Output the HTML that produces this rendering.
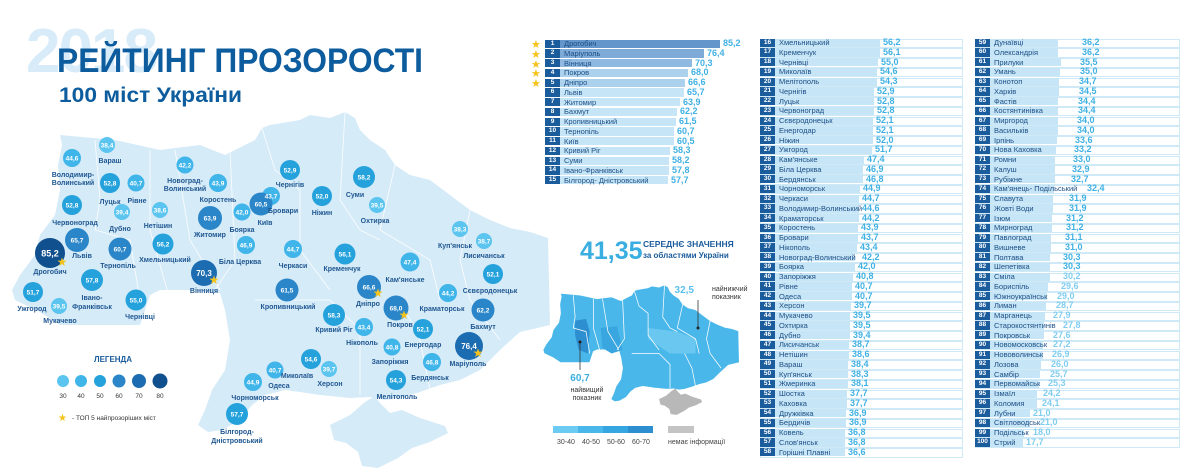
<!DOCTYPE html>
<html><head><meta charset="utf-8">
<style>
body{margin:0;width:1200px;height:476px;background:#fff;position:relative;overflow:hidden;font-family:"Liberation Sans",sans-serif}
.c{position:absolute;top:39px;width:210px}
.c p{position:relative;height:9.75px;margin:0}
.c b{position:absolute;left:0;top:.6px;width:15px;height:8.4px;background:#1b5c9c;color:#fff;font-size:6.5px;text-align:center;line-height:8.4px;z-index:2}
.c i{position:absolute;left:0;top:.6px;height:8.4px;background:#c6e5f6;z-index:1}
.c s{position:absolute;left:19px;top:0;font-size:7.5px;line-height:9.7px;color:#1d4f86;text-decoration:none;white-space:nowrap;z-index:3}
.c u{position:absolute;top:-1px;font-size:9px;font-weight:bold;color:#3fb0e3;text-decoration:none;line-height:11px;z-index:3}
.c2 p::after,.c3 p::after{content:'';position:absolute;left:0;right:0;top:.6px;height:7.6px;border:.5px solid #cfe9f7}
.c3 p:nth-child(n+25) u{color:#7fcdf0}
.st{position:absolute;left:531px;color:#f6c31c;font-size:11px;line-height:10px}
</style></head><body>

<svg width="1200" height="476" style="position:absolute;left:0;top:0">
<defs>
<polygon id="main" points="15,300 12,290 20,275 35,255 40,235 55,215 60,190 58,165 62,145 60,135 115,140 160,150 175,148 200,145 225,155 255,140 262,128 270,125 300,120 310,115 330,118 345,112 355,118 360,130 370,140 385,150 395,165 410,175 430,180 450,195 470,210 490,220 510,228 530,232 548,238 550,325 520,332 500,350 480,370 460,380 440,385 420,392 400,398 385,400 370,397 350,398 320,395 300,392 285,390 265,395 252,405 240,420 222,430 208,432 198,425 205,410 212,390 225,370 230,340 225,310 220,293 200,290 160,290 150,295 140,325 100,325 60,325 40,312"/>
<polygon id="cri" points="330,425 350,415 365,402 375,396 380,403 390,413 402,410 420,418 445,426 448,433 430,442 412,448 398,458 378,468 362,466 358,452 346,443 334,440"/>
</defs>
<use href="#main" fill="#d6ebf8"/>
<use href="#cri" fill="#d6ebf8"/>
<g fill="none" stroke="#fff" stroke-width="0.8" opacity="0.9">
<polyline points="95,140 100,200 95,230 130,240 140,300"/><polyline points="150,150 150,230 170,300"/><polyline points="175,150 190,240 220,290"/><polyline points="230,150 235,260 215,290"/><polyline points="262,128 275,170 300,190 300,250 330,290"/><polyline points="345,112 340,200 360,230 380,240"/><polyline points="395,165 380,230 430,260 440,300"/><polyline points="470,210 460,260 470,300 500,340"/><polyline points="255,300 330,300 360,330 360,395"/><polyline points="400,300 420,340 430,390"/>
</g>
<!-- small map -->
<g transform="translate(538.6,244) scale(0.365)">
<use href="#main" fill="#4ab7ea" stroke="#fff" stroke-width="2"/>
<use href="#cri" fill="#b8b8b8"/>
<polygon fill="#2e8fd0" points="100,210 130,205 140,240 135,300 110,290 100,250"/>
<polygon fill="#3aa6e0" points="170,230 215,225 230,290 200,300 175,285"/>
<polygon fill="#6ac8f0" points="300,230 380,240 430,260 430,300 360,300 300,260"/>
<g fill="none" stroke="#fff" stroke-width="2"><polyline points="95,140 100,200 95,230 130,240 140,300"/><polyline points="150,150 150,230 170,300"/><polyline points="175,150 190,240 220,290"/><polyline points="230,150 235,260 215,290"/><polyline points="262,128 275,170 300,190 300,250 330,290"/><polyline points="345,112 340,200 360,230 380,240"/><polyline points="395,165 380,230 430,260 440,300"/><polyline points="470,210 460,260 470,300 500,340"/><polyline points="255,300 330,300 360,330 360,395"/><polyline points="400,300 420,340 430,390"/></g>
</g>
<line x1="698" y1="300" x2="698" y2="328" stroke="#333" stroke-width="0.8"/><circle cx="698" cy="328" r="1.5" fill="#222"/>
<line x1="580" y1="342" x2="580" y2="370" stroke="#333" stroke-width="0.8"/><circle cx="580" cy="342" r="1.5" fill="#222"/>
<rect x="553" y="426" width="25" height="7" fill="#6ccbf2"/><rect x="578" y="426" width="25" height="7" fill="#4ab7ea"/><rect x="603" y="426" width="25" height="7" fill="#36a6e0"/><rect x="628" y="426" width="25" height="7" fill="#2e8fd0"/>
<rect x="668" y="426" width="26" height="7" fill="#c4c4c4"/>
<g font-size="7" fill="#444"><text x="557" y="444">30-40</text><text x="582" y="444">40-50</text><text x="607" y="444">50-60</text><text x="632" y="444">60-70</text><text x="668" y="444">немає інформації</text></g>
<text x="712" y="291" font-size="7" fill="#333">найнижчий</text><text x="712" y="299" font-size="7" fill="#333">показник</text>
<text x="694" y="293" font-size="10" font-weight="bold" fill="#5cc0ee" text-anchor="end">32,5</text>
<text x="580" y="381" font-size="10" font-weight="bold" fill="#3aaee0" text-anchor="middle">60,7</text>
<text x="587" y="392" font-size="7" fill="#333" text-anchor="middle">найвищий</text><text x="587" y="400" font-size="7" fill="#333" text-anchor="middle">показник</text>

<!-- title -->
<text x="26" y="72" font-size="62" font-weight="bold" fill="#d7ebf8" letter-spacing="-2">2018</text>
<text x="57" y="72" font-size="34" font-weight="bold" fill="#0d5c9e" textLength="366" lengthAdjust="spacingAndGlyphs">РЕЙТИНГ ПРОЗОРОСТІ</text>
<text x="59" y="102" font-size="21" font-weight="bold" fill="#0d5c9e" textLength="183" lengthAdjust="spacingAndGlyphs">100 міст України</text>
<text x="580" y="259" font-size="25" font-weight="bold" fill="#3aaee0">41,35</text>
<text x="643" y="247" font-size="8.5" font-weight="bold" fill="#1b5c9c">СЕРЕДНЄ ЗНАЧЕННЯ</text>
<text x="643" y="258" font-size="8" font-weight="bold" fill="#1b5c9c">за областями України</text>

<!-- legend -->
<text x="113" y="362" font-size="8" font-weight="bold" fill="#1b5c9c" text-anchor="middle">ЛЕГЕНДА</text>
<circle cx="63" cy="381" r="6" fill="#5bc5f0"/><circle cx="81" cy="381" r="6" fill="#3fb5e9"/><circle cx="100" cy="381" r="6" fill="#25a2dc"/><circle cx="119" cy="381" r="6.5" fill="#2a86c8"/><circle cx="139" cy="381" r="7" fill="#1c6cb1"/><circle cx="160" cy="381" r="7.5" fill="#11508f"/>
<g font-size="6.5" fill="#333" text-anchor="middle"><text x="63" y="398">30</text><text x="81" y="398">40</text><text x="100" y="398">50</text><text x="119" y="398">60</text><text x="139" y="398">70</text><text x="160" y="398">80</text></g>
<text x="58" y="421" font-size="10" fill="#f6c31c">★</text><text x="72" y="420" font-size="6.5" fill="#333">- ТОП 5 найпрозоріших міст</text>

<!-- bubbles -->
<g font-size="6.5" font-weight="bold" text-anchor="middle">
<g fill="#5bc5f0"><circle cx="107" cy="145" r="8"/><circle cx="122" cy="212" r="8"/><circle cx="160" cy="210" r="8"/><circle cx="377" cy="205" r="8"/><circle cx="460" cy="229" r="8"/><circle cx="484" cy="241" r="8"/><circle cx="329" cy="369" r="8"/><circle cx="59" cy="306" r="8"/></g>
<g fill="#3fb5e9"><circle cx="72" cy="158" r="9"/><circle cx="136" cy="183" r="8.5"/><circle cx="185" cy="165" r="8.5"/><circle cx="218" cy="183" r="9"/><circle cx="242" cy="212" r="8.5"/><circle cx="271" cy="196" r="9"/><circle cx="246" cy="245" r="9"/><circle cx="293" cy="249" r="9"/><circle cx="410" cy="262" r="9.5"/><circle cx="448" cy="293" r="9"/><circle cx="364" cy="327" r="9"/><circle cx="392" cy="347" r="8.5"/><circle cx="432" cy="362" r="9"/><circle cx="275" cy="370" r="8.5"/><circle cx="253" cy="382" r="9"/></g>
<g fill="#25a2dc"><circle cx="110" cy="183" r="10"/><circle cx="72" cy="205" r="10"/><circle cx="290" cy="170" r="10"/><circle cx="322" cy="196" r="10"/><circle cx="364" cy="177" r="11"/><circle cx="163" cy="244" r="10.5"/><circle cx="345" cy="254" r="10.5"/><circle cx="493" cy="274" r="10"/><circle cx="334" cy="315" r="11"/><circle cx="423" cy="329" r="10"/><circle cx="396" cy="380" r="10"/><circle cx="311" cy="359" r="10"/><circle cx="237" cy="414" r="11"/><circle cx="33" cy="292" r="10"/><circle cx="92" cy="280" r="11"/><circle cx="136" cy="300" r="10.5"/></g>
<g fill="#2a86c8"><circle cx="210" cy="218" r="12"/><circle cx="261" cy="204" r="11.5"/><circle cx="77" cy="240" r="12"/><circle cx="120" cy="249" r="11.5"/><circle cx="287" cy="290" r="11.5"/><circle cx="369" cy="287" r="12"/><circle cx="483" cy="310" r="11.5"/><circle cx="396" cy="308" r="12.5"/></g>
<g fill="#1c6cb1"><circle cx="204" cy="273" r="13"/><circle cx="469" cy="346" r="14"/></g>
<circle cx="50" cy="253" r="15" fill="#11508f"/>
<g fill="#fff">
<text x="107" y="147.5">38,4</text><text x="122" y="214.5">39,4</text><text x="160" y="212.5">38,6</text><text x="377" y="207.5">39,5</text><text x="460" y="231.5">38,3</text><text x="484" y="243.5">38,7</text><text x="329" y="371.5">39,7</text><text x="59" y="308.5">39,5</text>
<text x="72" y="160.5">44,6</text><text x="136" y="185.5">40,7</text><text x="185" y="167.5">42,2</text><text x="218" y="185.5">43,9</text><text x="242" y="214.5">42,0</text><text x="271" y="198.5">43,7</text><text x="246" y="247.5">46,9</text><text x="293" y="251.5">44,7</text><text x="410" y="264.5">47,4</text><text x="448" y="295.5">44,2</text><text x="364" y="329.5">43,4</text><text x="392" y="349.5">40,8</text><text x="432" y="364.5">46,8</text><text x="275" y="372.5">40,7</text><text x="253" y="384.5">44,9</text>
<text x="110" y="185.5">52,8</text><text x="72" y="207.5">52,8</text><text x="290" y="172.5">52,9</text><text x="322" y="198.5">52,0</text><text x="364" y="179.5">58,2</text><text x="163" y="246.5">56,2</text><text x="345" y="256.5">56,1</text><text x="493" y="276.5">52,1</text><text x="334" y="317.5">58,3</text><text x="423" y="331.5">52,1</text><text x="396" y="382.5">54,3</text><text x="311" y="361.5">54,6</text><text x="237" y="416.5">57,7</text><text x="33" y="294.5">51,7</text><text x="92" y="282.5">57,8</text><text x="136" y="302.5">55,0</text>
<text x="210" y="220.5">63,9</text><text x="261" y="206.5">60,5</text><text x="77" y="242.5">65,7</text><text x="120" y="251.5">60,7</text><text x="287" y="292.5">61,5</text><text x="369" y="289.5">66,6</text><text x="483" y="312.5">62,2</text><text x="396" y="310.5">68,0</text>
<text x="204" y="276" font-size="8">70,3</text><text x="469" y="349" font-size="8">76,4</text><text x="50" y="256.5" font-size="9">85,2</text>
</g>
<g fill="#f6c31c" font-size="12" font-weight="normal"><text x="62" y="266">★</text><text x="214" y="284">★</text><text x="378" y="297">★</text><text x="404" y="319">★</text><text x="478" y="357">★</text></g>
<g fill="#1f5791" font-size="7">
<text x="110" y="163">Вараш</text><text x="73" y="177">Володимир-</text><text x="73" y="185">Волинський</text><text x="110" y="204">Луцьк</text><text x="137" y="203">Рівне</text><text x="75" y="225">Червоноград</text><text x="120" y="231">Дубно</text><text x="158" y="228">Нетішин</text><text x="185" y="183">Новоград-</text><text x="185" y="191">Волинський</text><text x="218" y="202">Коростень</text><text x="210" y="237">Житомир</text><text x="242" y="232">Боярка</text><text x="265" y="225">Київ</text><text x="283" y="213">Бровари</text><text x="290" y="187">Чернігів</text><text x="322" y="215">Ніжин</text><text x="355" y="197">Суми</text><text x="375" y="223">Охтирка</text>
<text x="82" y="258">Львів</text><text x="50" y="274">Дрогобич</text><text x="118" y="268">Тернопіль</text><text x="165" y="262">Хмельницький</text><text x="240" y="264">Біла Церква</text><text x="293" y="268">Черкаси</text><text x="342" y="271">Кременчук</text><text x="204" y="293">Вінниця</text><text x="288" y="309">Кропивницький</text><text x="405" y="282">Кам'янське</text><text x="368" y="306">Дніпро</text>
<text x="455" y="248">Куп'янськ</text><text x="484" y="258">Лисичанськ</text><text x="490" y="293">Сєвєродонецьк</text><text x="442" y="311">Краматорськ</text><text x="483" y="329">Бахмут</text><text x="400" y="327">Покров</text><text x="334" y="332">Кривий Ріг</text><text x="362" y="345">Нікополь</text><text x="423" y="347">Енергодар</text><text x="468" y="366">Маріуполь</text><text x="390" y="364">Запоріжжя</text><text x="430" y="380">Бердянськ</text><text x="397" y="399">Мелітополь</text><text x="297" y="378">Миколаїв</text><text x="330" y="386">Херсон</text><text x="279" y="388">Одеса</text><text x="255" y="400">Чорноморськ</text><text x="237" y="434">Білгород-</text><text x="237" y="443">Дністровський</text>
<text x="32" y="311">Ужгород</text><text x="60" y="323">Мукачево</text><text x="92" y="300">Івано-</text><text x="92" y="309">Франківськ</text><text x="140" y="319">Чернівці</text>
</g>
</g>
</svg>

<div class="st" style="top:40px">★</div><div class="st" style="top:50px">★</div><div class="st" style="top:60px">★</div><div class="st" style="top:69px">★</div><div class="st" style="top:79px">★</div>

<div class="c c1" style="left:545px">
<p><b>1</b><i style="width:175px;background:#6495cb"></i><s>Дрогобич</s><u style="left:178px">85,2</u></p>
<p><b>2</b><i style="width:159px;background:#7eaad7"></i><s>Маріуполь</s><u style="left:162px">76,4</u></p>
<p><b>3</b><i style="width:147px;background:#8fb9e0"></i><s>Вінниця</s><u style="left:150px">70,3</u></p>
<p><b>4</b><i style="width:143px;background:#abd1ec"></i><s>Покров</s><u style="left:146px">68,0</u></p>
<p><b>5</b><i style="width:140px;background:#abd1ec"></i><s>Дніпро</s><u style="left:143px">66,6</u></p>
<p><b>6</b><i style="width:139px"></i><s>Львів</s><u style="left:142px">65,7</u></p>
<p><b>7</b><i style="width:135px"></i><s>Житомир</s><u style="left:138px">63,9</u></p>
<p><b>8</b><i style="width:132px"></i><s>Бахмут</s><u style="left:135px">62,2</u></p>
<p><b>9</b><i style="width:131px"></i><s>Кропивницький</s><u style="left:134px">61,5</u></p>
<p><b>10</b><i style="width:129px"></i><s>Тернопіль</s><u style="left:132px">60,7</u></p>
<p><b>11</b><i style="width:129px"></i><s>Київ</s><u style="left:132px">60,5</u></p>
<p><b>12</b><i style="width:125px"></i><s>Кривий Ріг</s><u style="left:128px">58,3</u></p>
<p><b>13</b><i style="width:124px"></i><s>Суми</s><u style="left:127px">58,2</u></p>
<p><b>14</b><i style="width:124px"></i><s>Івано-Франківськ</s><u style="left:127px">57,8</u></p>
<p><b>15</b><i style="width:123px"></i><s>Білгород- Дністровський</s><u style="left:126px">57,7</u></p>
</div>

<div class="c c2" style="left:760px;top:38px;width:203px">
<p><b>16</b><i style="width:120px"></i><s>Хмельницький</s><u style="left:123px">56,2</u></p>
<p><b>17</b><i style="width:120px"></i><s>Кременчук</s><u style="left:123px">56,1</u></p>
<p><b>18</b><i style="width:118px"></i><s>Чернівці</s><u style="left:121px">55,0</u></p>
<p><b>19</b><i style="width:117px"></i><s>Миколаїв</s><u style="left:120px">54,6</u></p>
<p><b>20</b><i style="width:117px"></i><s>Мелітополь</s><u style="left:120px">54,3</u></p>
<p><b>21</b><i style="width:114px"></i><s>Чернігів</s><u style="left:117px">52,9</u></p>
<p><b>22</b><i style="width:114px"></i><s>Луцьк</s><u style="left:117px">52,8</u></p>
<p><b>23</b><i style="width:114px"></i><s>Червоноград</s><u style="left:117px">52,8</u></p>
<p><b>24</b><i style="width:113px"></i><s>Сєвєродонецьк</s><u style="left:116px">52,1</u></p>
<p><b>25</b><i style="width:113px"></i><s>Енергодар</s><u style="left:116px">52,1</u></p>
<p><b>26</b><i style="width:113px"></i><s>Ніжин</s><u style="left:116px">52,0</u></p>
<p><b>27</b><i style="width:112px"></i><s>Ужгород</s><u style="left:115px">51,7</u></p>
<p><b>28</b><i style="width:104px"></i><s>Кам'янське</s><u style="left:107px">47,4</u></p>
<p><b>29</b><i style="width:103px"></i><s>Біла Церква</s><u style="left:106px">46,9</u></p>
<p><b>30</b><i style="width:103px"></i><s>Бердянськ</s><u style="left:106px">46,8</u></p>
<p><b>31</b><i style="width:100px"></i><s>Чорноморськ</s><u style="left:103px">44,9</u></p>
<p><b>32</b><i style="width:99px"></i><s>Черкаси</s><u style="left:102px">44,7</u></p>
<p><b>33</b><i style="width:99px"></i><s>Володимир-Волинський</s><u style="left:102px">44,6</u></p>
<p><b>34</b><i style="width:99px"></i><s>Краматорськ</s><u style="left:102px">44,2</u></p>
<p><b>35</b><i style="width:98px"></i><s>Коростень</s><u style="left:101px">43,9</u></p>
<p><b>36</b><i style="width:98px"></i><s>Бровари</s><u style="left:101px">43,7</u></p>
<p><b>37</b><i style="width:97px"></i><s>Нікополь</s><u style="left:100px">43,4</u></p>
<p><b>38</b><i style="width:95px"></i><s>Новоград-Волинський</s><u style="left:102px">42,2</u></p>
<p><b>39</b><i style="width:95px"></i><s>Боярка</s><u style="left:98px">42,0</u></p>
<p><b>40</b><i style="width:93px"></i><s>Запоріжжя</s><u style="left:96px">40,8</u></p>
<p><b>41</b><i style="width:92px"></i><s>Рівне</s><u style="left:95px">40,7</u></p>
<p><b>42</b><i style="width:92px"></i><s>Одеса</s><u style="left:95px">40,7</u></p>
<p><b>43</b><i style="width:91px"></i><s>Херсон</s><u style="left:94px">39,7</u></p>
<p><b>44</b><i style="width:90px"></i><s>Мукачево</s><u style="left:93px">39,5</u></p>
<p><b>45</b><i style="width:90px"></i><s>Охтирка</s><u style="left:93px">39,5</u></p>
<p><b>46</b><i style="width:90px"></i><s>Дубно</s><u style="left:93px">39,4</u></p>
<p><b>47</b><i style="width:89px"></i><s>Лисичанськ</s><u style="left:92px">38,7</u></p>
<p><b>48</b><i style="width:89px"></i><s>Нетішин</s><u style="left:92px">38,6</u></p>
<p><b>49</b><i style="width:88px"></i><s>Вараш</s><u style="left:91px">38,4</u></p>
<p><b>50</b><i style="width:88px"></i><s>Куп'янськ</s><u style="left:91px">38,3</u></p>
<p><b>51</b><i style="width:88px"></i><s>Жмеринка</s><u style="left:91px">38,1</u></p>
<p><b>52</b><i style="width:87px"></i><s>Шостка</s><u style="left:90px">37,7</u></p>
<p><b>53</b><i style="width:87px"></i><s>Каховка</s><u style="left:90px">37,7</u></p>
<p><b>54</b><i style="width:86px"></i><s>Дружківка</s><u style="left:89px">36,9</u></p>
<p><b>55</b><i style="width:86px"></i><s>Бердичів</s><u style="left:89px">36,9</u></p>
<p><b>56</b><i style="width:85px"></i><s>Ковель</s><u style="left:88px">36,8</u></p>
<p><b>57</b><i style="width:85px"></i><s>Слов'янськ</s><u style="left:88px">36,8</u></p>
<p><b>58</b><i style="width:85px"></i><s>Горішні Плавні</s><u style="left:88px">36,6</u></p>
</div>

<div class="c c3" style="left:975px;top:38px;width:205px">
<p><b>59</b><i style="width:83px"></i><s>Дунаївці</s><u style="left:107px">36,2</u></p>
<p><b>60</b><i style="width:83px"></i><s>Олександрія</s><u style="left:107px">36,2</u></p>
<p><b>61</b><i style="width:86px"></i><s>Прилуки</s><u style="left:105px">35,5</u></p>
<p><b>62</b><i style="width:85px"></i><s>Умань</s><u style="left:105px">35,0</u></p>
<p><b>63</b><i style="width:84px"></i><s>Конотоп</s><u style="left:104px">34,7</u></p>
<p><b>64</b><i style="width:84px"></i><s>Харків</s><u style="left:104px">34,5</u></p>
<p><b>65</b><i style="width:83px"></i><s>Фастів</s><u style="left:103px">34,4</u></p>
<p><b>66</b><i style="width:83px"></i><s>Костянтинівка</s><u style="left:103px">34,4</u></p>
<p><b>67</b><i style="width:83px"></i><s>Миргород</s><u style="left:102px">34,0</u></p>
<p><b>68</b><i style="width:83px"></i><s>Васильків</s><u style="left:102px">34,0</u></p>
<p><b>69</b><i style="width:82px"></i><s>Ірпінь</s><u style="left:100px">33,6</u></p>
<p><b>70</b><i style="width:81px"></i><s>Нова Каховка</s><u style="left:99px">33,2</u></p>
<p><b>71</b><i style="width:80px"></i><s>Ромни</s><u style="left:98px">33,0</u></p>
<p><b>72</b><i style="width:80px"></i><s>Калуш</s><u style="left:97px">32,9</u></p>
<p><b>73</b><i style="width:80px"></i><s>Рубіжне</s><u style="left:96px">32,7</u></p>
<p><b>74</b><i style="width:79px"></i><s>Кам'янець- Подільський</s><u style="left:112px">32,4</u></p>
<p><b>75</b><i style="width:78px"></i><s>Славута</s><u style="left:94px">31,9</u></p>
<p><b>76</b><i style="width:78px"></i><s>Жовті Води</s><u style="left:94px">31,9</u></p>
<p><b>77</b><i style="width:77px"></i><s>Ізюм</s><u style="left:91px">31,2</u></p>
<p><b>78</b><i style="width:77px"></i><s>Мирноград</s><u style="left:91px">31,2</u></p>
<p><b>79</b><i style="width:76px"></i><s>Павлоград</s><u style="left:90px">31,1</u></p>
<p><b>80</b><i style="width:76px"></i><s>Вишневе</s><u style="left:90px">31,0</u></p>
<p><b>81</b><i style="width:75px"></i><s>Полтава</s><u style="left:88px">30,3</u></p>
<p><b>82</b><i style="width:75px"></i><s>Шепетівка</s><u style="left:88px">30,3</u></p>
<p><b>83</b><i style="width:75px"></i><s>Сміла</s><u style="left:88px">30,2</u></p>
<p><b>84</b><i style="width:73px"></i><s>Бориспіль</s><u style="left:86px">29,6</u></p>
<p><b>85</b><i style="width:72px"></i><s>Южноукраїнськ</s><u style="left:82px">29,0</u></p>
<p><b>86</b><i style="width:71px"></i><s>Лиман</s><u style="left:81px">28,7</u></p>
<p><b>87</b><i style="width:70px"></i><s>Марганець</s><u style="left:78px">27,9</u></p>
<p><b>88</b><i style="width:69px"></i><s>Старокостянтинів</s><u style="left:88px">27,8</u></p>
<p><b>89</b><i style="width:69px"></i><s>Покровськ</s><u style="left:78px">27,6</u></p>
<p><b>90</b><i style="width:68px"></i><s>Новомосковськ</s><u style="left:78px">27,2</u></p>
<p><b>91</b><i style="width:68px"></i><s>Нововолинськ</s><u style="left:77px">26,9</u></p>
<p><b>92</b><i style="width:66px"></i><s>Лозова</s><u style="left:76px">26,0</u></p>
<p><b>93</b><i style="width:65px"></i><s>Самбір</s><u style="left:75px">25,7</u></p>
<p><b>94</b><i style="width:64px"></i><s>Первомайськ</s><u style="left:73px">25,3</u></p>
<p><b>95</b><i style="width:62px"></i><s>Ізмаїл</s><u style="left:68px">24,2</u></p>
<p><b>96</b><i style="width:62px"></i><s>Коломия</s><u style="left:67px">24,1</u></p>
<p><b>97</b><i style="width:55px"></i><s>Лубни</s><u style="left:58px">21,0</u></p>
<p><b>98</b><i style="width:55px"></i><s>Світловодськ</s><u style="left:65px">21,0</u></p>
<p><b>99</b><i style="width:49px"></i><s>Подільськ</s><u style="left:58px">18,0</u></p>
<p><b>100</b><i style="width:48px"></i><s>Стрий</s><u style="left:51px">17,7</u></p>
</div>

</body></html>
